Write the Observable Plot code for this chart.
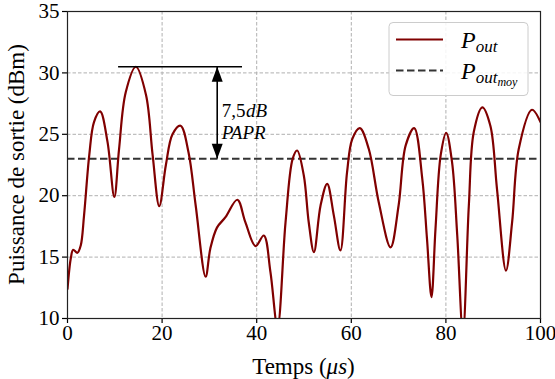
<!DOCTYPE html>
<html>
<head>
<meta charset="utf-8">
<script src="https://cdn.jsdelivr.net/npm/d3@7"></script>
<script src="https://cdn.jsdelivr.net/npm/@observablehq/plot@0.6"></script>
<style>
  html, body { margin: 0; padding: 0; background: white; }
  #chart { width: 555px; height: 379px; }
  #chart svg, #chart svg text, #chart svg tspan { font-family: "Liberation Serif", "DejaVu Serif", "Noto Serif", serif !important; }
</style>
</head>
<body>
<div id="chart"></div>
<script>
// ---- data ----
const timeUs = [0, 0.7, 1.2, 2.1, 2.8, 3.5, 4.6, 5.6, 6.9, 8.45, 9.9, 10.9, 12.3, 14.45, 16.6, 18.0, 19.4, 20.8, 22.2, 23.9,
  25.6, 27.1, 29.2, 30.2, 31.6, 33.4, 35.9, 37.6, 39.75, 41.5, 42.9, 44.4, 46.1, 47.6, 48.55, 49.96, 51.0, 52.1, 53.5, 54.9,
  56.3, 57.7, 59.1, 60.2, 61.8, 63.7, 65.8, 68.3, 70.0, 71.5, 73.3, 75.0, 76.0, 76.95, 77.8, 78.9, 80.06, 81.3, 82.4, 83.6,
  84.85, 85.9, 87.7, 89.4, 90.8, 92.7, 94.0, 95.4, 98.2, 100];
const powerDbm = [12.4, 14.9, 15.6, 15.35, 15.95, 18.4, 23.3, 26.0, 26.86, 24.4, 19.9, 23.8, 28.4, 30.5, 28.2, 23.3, 19.15, 22.5, 25.0, 25.7,
  23.5, 19.2, 13.4, 15.7, 17.4, 18.25, 19.67, 17.85, 15.9, 16.76, 13.8, 9.3, 17.85, 23.0, 23.68, 21.64, 17.84, 15.4, 19.2, 20.97,
  18.4, 15.54, 21.9, 24.6, 25.5, 23.8, 19.47, 15.8, 19.2, 24.1, 25.5, 21.4, 16.5, 11.74, 17.3, 23.3, 25.12, 22.73, 16.76, 8.8,
  19.2, 25.2, 27.2, 25.7, 20.56, 13.9, 17.84, 23.8, 27.0, 26.0];
const meanPower = 23.0;
const peakPower = 30.5;
const peakLineX = [10.8, 37.0];
const arrowX = 31.65;
const xTicks = [0, 20, 40, 60, 80, 100];
const yTicks = [10, 15, 20, 25, 30, 35];

const data = timeUs.map((t, i) => ({t, p: powerDbm[i]}));

// custom filled arrowheads (tip at origin)
const headUp = {draw(ctx) { ctx.moveTo(0, 0); ctx.lineTo(-5.5, 15); ctx.lineTo(5.5, 15); ctx.closePath(); }};
const headDown = {draw(ctx) { ctx.moveTo(0, 0); ctx.lineTo(-5.5, -15); ctx.lineTo(5.5, -15); ctx.closePath(); }};

const gridStyle = {stroke: "#b0b0b0", strokeOpacity: 1, strokeWidth: 1, strokeDasharray: "3.5,2"};

const chart = Plot.plot({
  width: 555,
  height: 379,
  marginLeft: 67,
  marginRight: 15,
  marginTop: 11,
  marginBottom: 61,
  x: {domain: [0, 100], label: null},
  y: {domain: [10, 35], label: null},
  style: {fontFamily: "Liberation Serif, DejaVu Serif, serif", fontSize: "20px", background: "white", color: "black", overflow: "visible"},
  marks: [
    Plot.gridX(xTicks, gridStyle),
    Plot.gridY(yTicks, gridStyle),
    Plot.axisX(xTicks, {tickSize: 5, tickPadding: 2, fontSize: 21, label: null, tickFormat: d => d, strokeWidth: 1.2}),
    Plot.axisY(yTicks, {tickSize: 5, tickPadding: 3, fontSize: 21, label: null, tickFormat: d => d, strokeWidth: 1.2}),
    Plot.ruleY([meanPower], {stroke: "#333", strokeWidth: 2, strokeDasharray: "7.5,3.5"}),
    Plot.line(data, {x: "t", y: "p", stroke: "#800000", strokeWidth: 2.2, curve: "catmull-rom", clip: true}),
    Plot.ruleY([peakPower], {x1: peakLineX[0], x2: peakLineX[1], stroke: "black", strokeWidth: 1.6}),
    Plot.ruleX([arrowX], {y1: meanPower, y2: peakPower, stroke: "black", strokeWidth: 1.6}),
    Plot.dot([{x: arrowX, y: peakPower}], {x: "x", y: "y", symbol: headUp, fill: "black", stroke: "none"}),
    Plot.dot([{x: arrowX, y: meanPower}], {x: "x", y: "y", symbol: headDown, fill: "black", stroke: "none"}),
    Plot.frame({stroke: "#222", strokeWidth: 1.2})
  ]
});

document.getElementById("chart").appendChild(chart);

// ---- text overlays: axis labels, annotation, legend ----
const svg = d3.select(chart);
const x = chart.scale("x"), y = chart.scale("y");

// x label
const xl = svg.append("text")
  .attr("x", (x.apply(0) + x.apply(100)) / 2).attr("y", 374)
  .attr("text-anchor", "middle").attr("font-size", 23).attr("fill", "black");
xl.append("tspan").text("Temps (");
xl.append("tspan").attr("font-style", "italic").text("μs");
xl.append("tspan").text(")");

// y label
svg.append("text")
  .attr("transform", `translate(24,${(y.apply(10) + y.apply(35)) / 2}) rotate(-90)`)
  .attr("text-anchor", "middle").attr("font-size", 23).attr("fill", "black")
  .text("Puissance de sortie (dBm)");

// PAPR annotation text (separate text nodes, placed side by side)
const ax = x.apply(arrowX) + 5;
const a1 = svg.append("text").attr("x", ax).attr("y", 117).attr("text-anchor", "start")
  .attr("font-size", 19).attr("fill", "black").text("7,5");
const w1 = a1.node().getComputedTextLength();
svg.append("text").attr("x", ax + w1 + 0.5).attr("y", 117).attr("text-anchor", "start")
  .attr("font-size", 19).attr("font-style", "italic").attr("fill", "black").text("dB");
svg.append("text").attr("x", ax).attr("y", 139).attr("text-anchor", "start")
  .attr("font-size", 19).attr("font-style", "italic").attr("fill", "black")
  .text("PAPR");

// legend
const lg = svg.append("g");
lg.append("rect").attr("x", 389).attr("y", 22.5).attr("width", 139).attr("height", 73)
  .attr("rx", 4).attr("fill", "white").attr("fill-opacity", 0.85).attr("stroke", "#cccccc").attr("stroke-width", 1);
lg.append("line").attr("x1", 396).attr("x2", 443).attr("y1", 39.5).attr("y2", 39.5)
  .attr("stroke", "#800000").attr("stroke-width", 2.2);
lg.append("line").attr("x1", 396).attr("x2", 443).attr("y1", 70.5).attr("y2", 70.5)
  .attr("stroke", "#333").attr("stroke-width", 2).attr("stroke-dasharray", "7.5,3.5");
const l1 = lg.append("text").attr("x", 461).attr("y", 48).attr("text-anchor", "start")
  .attr("font-size", 24).attr("font-style", "italic").attr("fill", "black");
l1.append("tspan").text("P");
l1.append("tspan").attr("font-size", 17).attr("dy", 4).text("out");
const l2 = lg.append("text").attr("x", 461).attr("y", 79).attr("text-anchor", "start")
  .attr("font-size", 24).attr("font-style", "italic").attr("fill", "black");
l2.append("tspan").text("P");
l2.append("tspan").attr("font-size", 17).attr("dy", 4).text("out");
l2.append("tspan").attr("font-size", 12).attr("dy", 3).text("moy");
</script>
</body>
</html>
